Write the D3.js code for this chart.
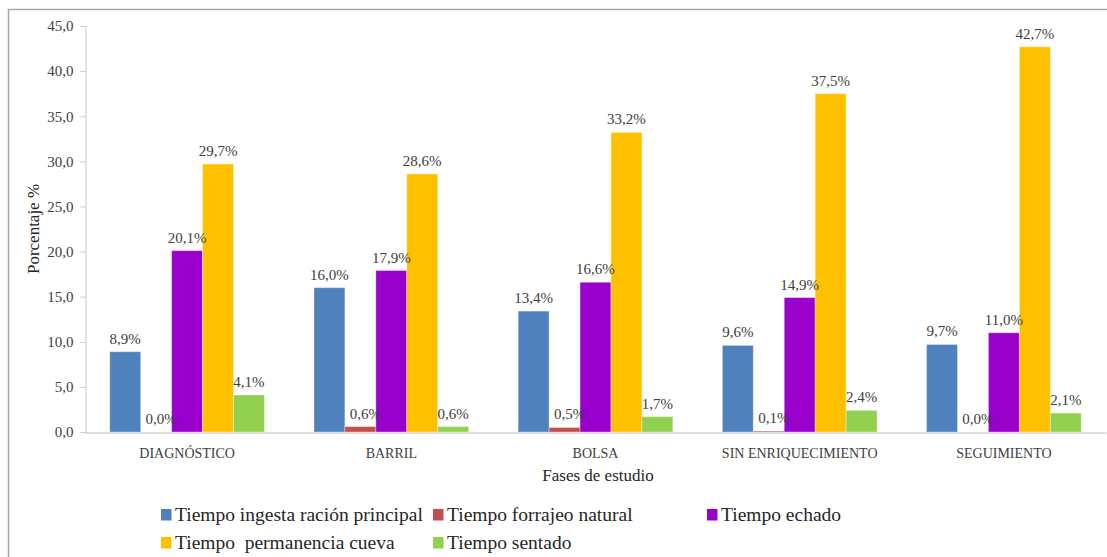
<!DOCTYPE html>
<html>
<head>
<meta charset="utf-8">
<script src="https://cdn.jsdelivr.net/npm/d3@7"></script>
<style>
  html, body { margin: 0; padding: 0; background: #fff; }
</style>
</head>
<body>
<svg id="chart" width="1107" height="557"></svg>
<script>
// Study phases (x categories)
const categories = ["DIAGNÓSTICO", "BARRIL", "BOLSA", "SIN ENRIQUECIMIENTO", "SEGUIMIENTO"];

// Behaviour series
const seriesNames = [
  "Tiempo ingesta ración principal",
  "Tiempo forrajeo natural",
  "Tiempo echado",
  "Tiempo  permanencia cueva",
  "Tiempo sentado"
];
const seriesColors = ["#4F81BD", "#C0504D", "#9900CC", "#FFC000", "#92D050"];

// Percentages per series, one value per phase
const ingesta    = [8.9, 16.0, 13.4, 9.6, 9.7];
const forrajeo   = [0.0, 0.6, 0.5, 0.1, 0.0];
const echado     = [20.1, 17.9, 16.6, 14.9, 11.0];
const cueva      = [29.7, 28.6, 33.2, 37.5, 42.7];
const sentado    = [4.1, 0.6, 1.7, 2.4, 2.1];
const seriesValues = [ingesta, forrajeo, echado, cueva, sentado];

// Y axis ticks
const yTicks = [0, 5, 10, 15, 20, 25, 30, 35, 40, 45];

const FONT = "Liberation Serif";
const svg = d3.select("#chart");
const fmt1 = v => v.toFixed(1).replace(".", ",");

// outer frame
svg.append("rect")
  .attr("x", 8.5).attr("y", 9.5)
  .attr("width", 1110).attr("height", 560)
  .attr("fill", "none").attr("stroke", "#a6a6a6").attr("stroke-width", 1.5);

const x0 = d3.scaleBand().domain(categories).range([85, 1106]).padding(0);
const x1 = d3.scaleBand().domain(seriesNames).range([0, x0.bandwidth()])
  .paddingInner(0).paddingOuter(0.8);
const y = d3.scaleLinear().domain([0, 45]).range([432, 26]);

// Y axis
const yAxis = svg.append("g")
  .attr("transform", "translate(85.5,0)")
  .call(d3.axisLeft(y).tickValues(yTicks).tickSize(5).tickPadding(7).tickFormat(fmt1));
yAxis.attr("font-family", null);
yAxis.select(".domain").attr("stroke", "#c8c8c8");
yAxis.selectAll(".tick line").attr("stroke", "#c8c8c8");
yAxis.selectAll(".tick text")
  .attr("fill", "#404040")
  .style("font-family", FONT)
  .style("font-size", "15px");

// bars
const groups = svg.append("g").selectAll("g")
  .data(categories)
  .join("g")
  .attr("transform", d => `translate(${x0(d)},0)`);

groups.selectAll("rect")
  .data((c, ci) => seriesNames.map((s, si) => ({ s, si, v: seriesValues[si][ci] })))
  .join("rect")
  .attr("x", d => x1(d.s))
  .attr("width", x1.bandwidth())
  .attr("y", d => y(d.v))
  .attr("height", d => y(0) - y(d.v))
  .attr("fill", d => seriesColors[d.si])
  .attr("stroke", "rgba(255,255,255,0.35)")
  .attr("stroke-width", 1);

// value labels
groups.selectAll("text.val")
  .data((c, ci) => seriesNames.map((s, si) => ({ s, si, v: seriesValues[si][ci] })))
  .join("text")
  .attr("class", "val")
  .attr("x", d => x1(d.s) + x1.bandwidth() / 2 + (d.si === 1 ? 5 : 0))
  .attr("y", d => y(d.v) - 8)
  .attr("text-anchor", "middle")
  .attr("fill", "#404040")
  .style("font-family", FONT)
  .style("font-size", "15px")
  .text(d => fmt1(d.v) + "%");

// X axis
const xAxis = svg.append("g")
  .attr("transform", "translate(0,432.5)")
  .call(d3.axisBottom(x0).tickSize(0).tickPadding(16));
xAxis.attr("font-family", null);
xAxis.select(".domain").attr("stroke", "#bfbfbf");
xAxis.selectAll(".tick text")
  .attr("fill", "#404040")
  .style("font-family", FONT)
  .style("font-size", "14px");

// axis titles
svg.append("text")
  .attr("x", 598).attr("y", 481)
  .attr("text-anchor", "middle")
  .attr("fill", "#262626")
  .style("font-family", FONT)
  .style("font-size", "17px")
  .text("Fases de estudio");

svg.append("text")
  .attr("transform", "translate(39,229) rotate(-90)")
  .attr("text-anchor", "middle")
  .attr("fill", "#262626")
  .style("font-family", FONT)
  .style("font-size", "17px")
  .text("Porcentaje %");

// legend
const legendPos = [
  { x: 161, y: 521 }, { x: 433, y: 521 }, { x: 707, y: 521 },
  { x: 161, y: 549 }, { x: 433, y: 549 }
];
const legend = svg.append("g").selectAll("g")
  .data(seriesNames)
  .join("g")
  .attr("transform", (d, i) => `translate(${legendPos[i].x},${legendPos[i].y})`);
legend.append("rect")
  .attr("x", 0).attr("y", -12)
  .attr("width", 10.5).attr("height", 11.5)
  .attr("fill", (d, i) => seriesColors[i]);
legend.append("text")
  .attr("x", 14).attr("y", 0)
  .attr("fill", "#262626")
  .style("font-family", FONT)
  .style("font-size", "19.5px")
  .style("white-space", "pre")
  .text(d => d);
</script>
</body>
</html>
